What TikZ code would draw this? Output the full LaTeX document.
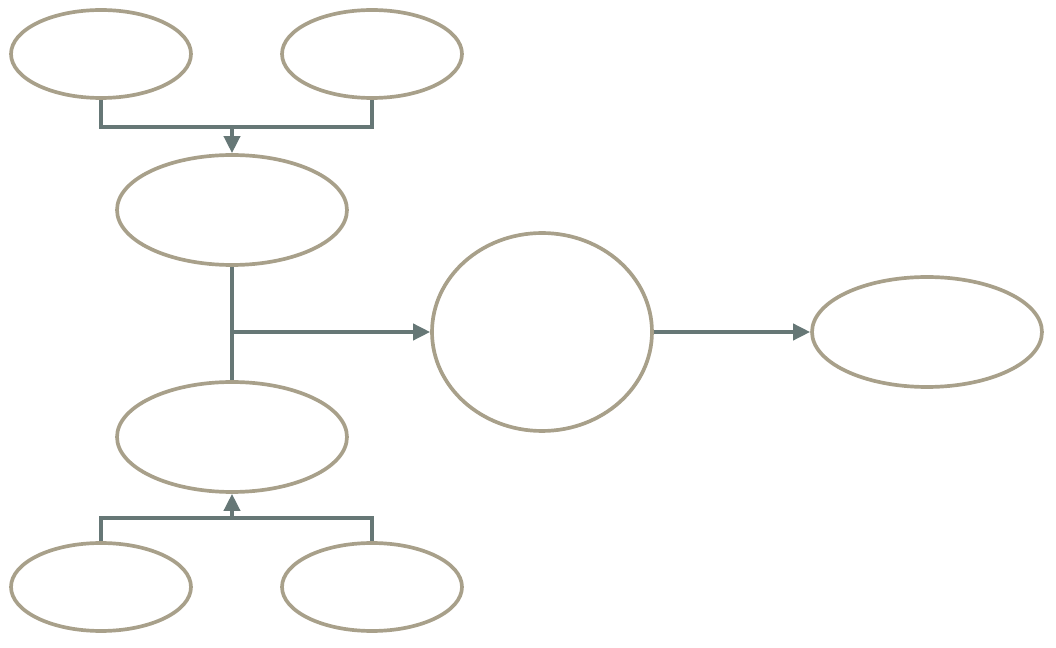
\documentclass[tikz,border=0pt]{standalone}
\usepackage{tikz}
\usetikzlibrary{arrows.meta,shapes.geometric}
\definecolor{rim}{HTML}{A8A08A}
\definecolor{wire}{HTML}{667776}
\tikzset{
  blob/.style={draw=rim, line width=2.1pt, ellipse, inner sep=0pt},
  small/.style={blob, minimum width=3.6cm, minimum height=1.76cm},
  wide/.style={blob, minimum width=4.6cm, minimum height=2.2cm},
  link/.style={draw=wire, line width=2.1pt},
  flow/.style={link, -{Triangle[length=0.34cm, width=0.32cm]}}
}
\begin{document}
\begin{tikzpicture}[x=0.02cm, y=-0.02cm]
\useasboundingbox (0,0) rectangle (1056,648);
% upper pair feeding the first middle node
\node[small] (tl) at (101,54) {};
\node[small] (tr) at (372,54) {};
\node[wide] (top) at (232,210) {};
\coordinate (upjoin) at (232,127);
\draw[link] (tl.south) |- (upjoin) -| (tr.south);
\draw[flow] (upjoin) -- (top.north);
	% lower pair feeding the second middle node
	\node[wide] (low) at (232,437) {};
	\node[small] (bl) at (101,587) {};
	\node[small] (br) at (372,587) {};
	\coordinate (downjoin) at (232,518);
	\draw[link] (bl.north) |- (downjoin) -| (br.north);
	\draw[flow] (downjoin) -- (low.south);
		% centre and right
		\node[blob, minimum width=4.4cm, minimum height=3.96cm] (mid) at (542,332) {};
		\node[wide] (out) at (927,332) {};
		\coordinate (split) at (232,332);
		\draw[link] (top.south) -- (low.north);
		\draw[flow] (split) -- (mid.west);
		\draw[flow] (mid.east) -- (out.west);
\end{tikzpicture}
\end{document}
